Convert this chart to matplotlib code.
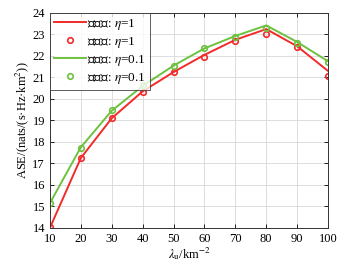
import matplotlib
matplotlib.use('Agg')
import matplotlib.pyplot as plt

# density lambda_u (km^-2)
lam = [10, 20, 30, 40, 50, 60, 70, 80, 90, 100]

# eta = 1
theory_eta1 = [14.0, 17.25, 19.1, 20.35, 21.25, 22.05, 22.75, 23.25, 22.45, 21.3]
sim_eta1 = [14.02, 17.25, 19.12, 20.33, 21.25, 21.93, 22.68, 23.03, 22.42, 21.05]

# eta = 0.1
theory_eta01 = [15.15, 17.75, 19.45, 20.6, 21.55, 22.35, 22.93, 23.42, 22.65, 21.75]
sim_eta01 = [15.15, 17.72, 19.47, 20.65, 21.55, 22.35, 22.88, 23.3, 22.62, 21.72]

plt.rcParams['font.family'] = ['Liberation Serif', 'Noto Sans CJK SC']
plt.rcParams['mathtext.fontset'] = 'stix'

red = '#f22a2a'
green = '#6cc23e'

fig = plt.figure(figsize=(3.49, 2.70), dpi=100)
ax = fig.add_axes([0.143, 0.156, 0.797, 0.796])

ax.plot(lam, theory_eta1, '-', color=red, lw=1.4, label=r'理论值: $\eta$=1')
ax.plot(lam, sim_eta1, 'o', color=red, mfc='none', ms=4, mew=1.2, ls='none',
        label=r'仿真值: $\eta$=1')
ax.plot(lam, theory_eta01, '-', color=green, lw=1.4, label=r'理论值: $\eta$=0.1')
ax.plot(lam, sim_eta01, 'o', color=green, mfc='none', ms=4, mew=1.2, ls='none',
        label=r'仿真值: $\eta$=0.1')

ax.set_xlim(10, 100)
ax.set_ylim(14, 24)
ax.set_xticks(range(10, 101, 10))
ax.set_yticks(range(14, 25))
ax.grid(True, color='#dddddd', lw=0.7)
ax.set_axisbelow(True)
ax.tick_params(direction='in', top=True, right=True, labelsize=9, length=3, width=0.6)
for s in ax.spines.values():
    s.set_linewidth(0.7)
    s.set_color('#333333')

ax.set_xlabel(r'$\lambda_{\mathrm{u}}$/km$^{-2}$', fontsize=9, labelpad=0)
ax.set_ylabel('ASE/(nats/(s·Hz·km$^2$))', fontsize=9, labelpad=1)

leg = ax.legend(loc='upper left', fontsize=9.5, frameon=True, fancybox=False,
                edgecolor='#333333', borderaxespad=0, handlelength=2.4,
                handletextpad=0.1, borderpad=0.3, labelspacing=0.22)
leg.get_frame().set_linewidth(0.7)

fig.savefig('out.png', dpi=100)
